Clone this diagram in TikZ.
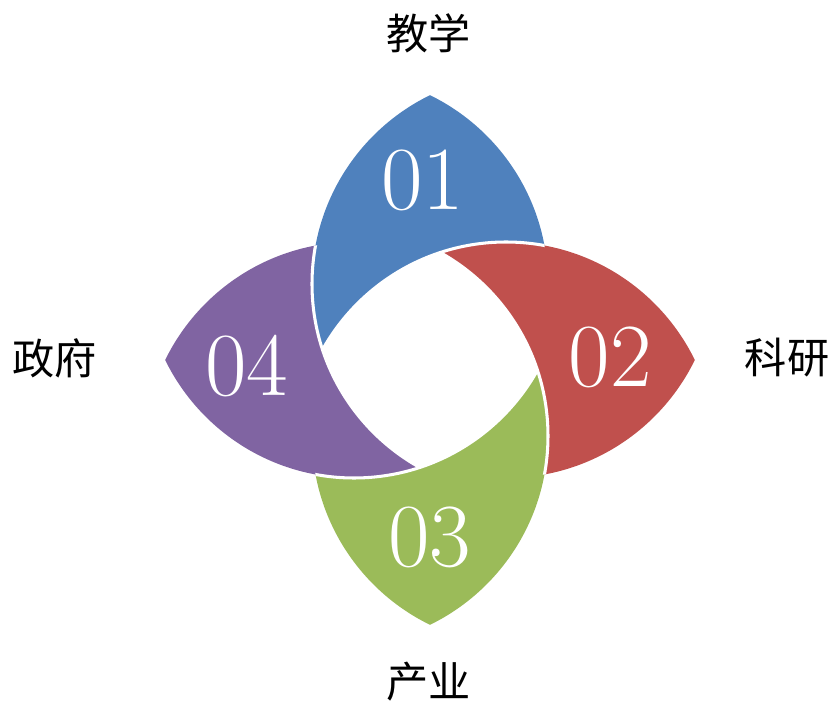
\documentclass[tikz,border=0pt]{standalone}
\usepackage{fontspec}
\newfontfamily\cjk{Noto Sans CJK SC}
\usepackage{tikz}

\definecolor{petalblue}{HTML}{4F81BD}
\definecolor{petalred}{HTML}{C0504D}
\definecolor{petalgreen}{HTML}{9BBB59}
\definecolor{petalpurple}{HTML}{8064A2}

\begin{document}
\begin{tikzpicture}[x=0.03cm,y=0.03cm,
    num/.style={text=white,font=\fontsize{77}{77}\selectfont},
    lab/.style={font=\cjk\fontsize{36}{36}\selectfont},
    gap/.style={draw=white,line width=2.6pt}]

    \useasboundingbox (-430,-342) rectangle (405,360);

    % circle centres (each petal = d_i and e_i, minus d_{i+1})
    \coordinate (d1) at (92,76);
    \coordinate (e1) at (-92,76);
    \coordinate (d2) at (76,-92);
    \coordinate (e2) at (76,92);
    \coordinate (d3) at (-92,-76);
    \coordinate (e3) at (92,-76);
    \coordinate (d4) at (-76,92);
    \coordinate (e4) at (-76,-92);

    % petals
    \foreach \d/\e/\n/\c in {d1/e1/d2/petalblue, d2/e2/d3/petalred,
                             d3/e3/d4/petalgreen, d4/e4/d1/petalpurple}{
        \begin{scope}
            \clip (\d) circle[radius=210];
            \clip (\e) circle[radius=210];
            \begin{scope}[even odd rule]
                \clip (-430,-342) rectangle (405,360) (\n) circle[radius=210];
                \fill[\c] (-430,-342) rectangle (405,360);
            \end{scope}
        \end{scope}
    }

    % white gaps between petals
    \foreach \d/\e/\n in {d1/e1/d2, d2/e2/d3, d3/e3/d4, d4/e4/d1}{
        \begin{scope}
            \clip (\d) circle[radius=210];
            \clip (\e) circle[radius=210];
            \draw[gap] (\n) circle[radius=210];
        \end{scope}
    }

    % numbers
    \node[num] (n1) at (-7,180) {01};
    \node[num] (n2) at (180,3) {02};
    \node[num] (n3) at (0,-177) {03};
    \node[num] (n4) at (-183,-6) {04};

    % labels
    \node[lab] (t1) at (-1,327) {教学};
    \node[lab] (t2) at (357,2) {科研};
    \node[lab] (t3) at (-1,-322) {产业};
    \node[lab] (t4) at (-375,2) {政府};

\end{tikzpicture}
\end{document}
